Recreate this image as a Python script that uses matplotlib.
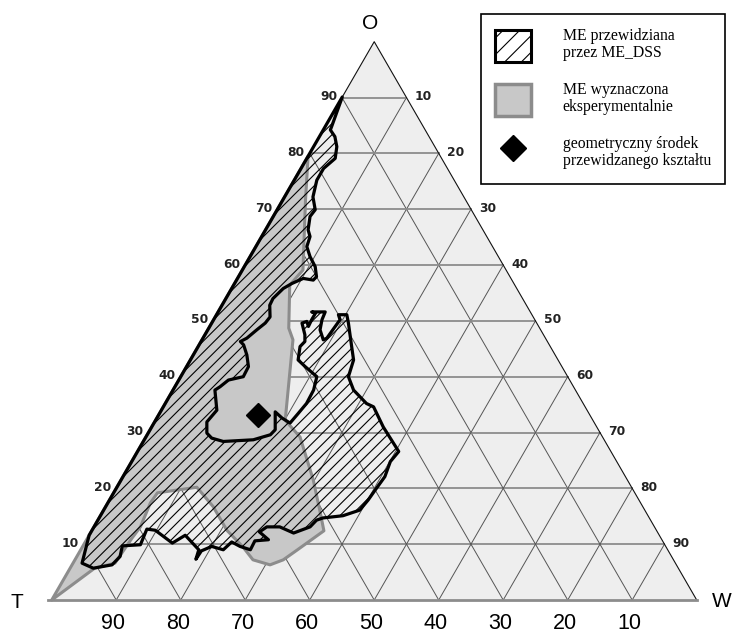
import numpy as np
import matplotlib.pyplot as plt
from matplotlib.patches import Polygon, Patch
from matplotlib.lines import Line2D

plt.rcParams['hatch.linewidth'] = 0.8

# compositions in percent: W (right corner), O (top corner), T = 100 - W - O
TICKS = [10, 20, 30, 40, 50, 60, 70, 80, 90]

# ME predicted by ME_DSS (outline traced counter-clockwise from the T-O edge)
PRED_W = [
    0.0, 0.0, 1.0, 1.1, 2.4, 3.6, 4.4, 3.5, 3.5, 4.4,
    5.9, 5.7, 6.6, 7.5, 7.9, 9.3, 11.0, 12.1, 11.9, 10.2,
    8.9, 8.0, 7.3, 7.4, 8.5, 8.3, 7.6, 6.8, 6.1, 6.9,
    8.3, 9.6, 9.7, 7.7, 7.0, 6.5, 8.6, 8.1, 9.1, 10.3,
    12.4, 16.9, 19.1, 19.4, 17.8, 19.4, 21.1, 21.5, 21.9, 21.8,
    21.1, 18.4, 16.7, 15.8, 16.1, 15.5, 14.0, 14.6, 15.3, 15.2,
    15.2, 14.5, 16.6, 16.8, 17.4, 18.8, 19.2, 19.6, 18.9, 20.2,
    21.2, 23.8, 25.3, 26.0, 28.0, 31.2, 32.6, 35.9, 40.5, 40.1,
    40.6, 40.3, 40.1, 39.7, 37.6, 34.7, 33.9, 33.5, 31.5, 28.8,
    26.8, 26.1, 28.2, 26.2, 26.3, 24.4, 22.7, 22.1, 20.0, 18.8,
    18.7, 18.3, 14.9, 13.6, 9.8, 8.4, 8.8, 6.1, 6.7, 6.2,
    3.6, 1.4]
PRED_O = [
    11.6, 90.1, 84.8, 84.2, 83.0, 81.2, 79.1, 77.3, 75.2, 72.2,
    69.9, 68.7, 66.3, 65.1, 63.3, 61.5, 59.7, 57.9, 57.3, 57.6,
    56.7, 55.8, 54.0, 52.8, 50.7, 49.6, 48.4, 46.9, 46.3, 45.7,
    43.9, 41.8, 40.0, 39.4, 38.2, 37.6, 34.0, 31.9, 29.9, 29.0,
    28.4, 28.7, 29.6, 30.5, 33.7, 32.6, 31.7, 33.4, 35.2, 37.6,
    40.0, 41.8, 43.0, 45.4, 46.3, 47.5, 49.6, 49.9, 49.0, 50.2,
    51.4, 51.6, 51.6, 50.2, 48.4, 46.6, 46.9, 50.2, 51.1, 51.1,
    49.6, 45.4, 43.0, 40.0, 37.6, 35.2, 34.6, 31.0, 26.6, 24.8,
    22.1, 19.7, 17.9, 16.1, 15.1, 14.7, 14.3, 13.1, 12.0, 13.1,
    13.1, 12.2, 10.8, 10.6, 9.0, 9.6, 10.4, 9.0, 9.6, 8.8,
    7.3, 9.0, 11.6, 10.2, 12.5, 12.7, 9.9, 9.7, 7.8, 6.3,
    5.7, 6.6]

# ME determined experimentally
EXP_W = [0.0, 0.0, 3.5, 9.4, 8.7, 12.4, 14.1, 20.1, 23.9, 29.8,
         33.5, 36.0, 33.6, 32.3, 30.7, 27.6, 24.9, 20.9, 16.7, 12.4,
         6.8, 6.6, 7.2, 6.9, 6.5, 3.8]
EXP_O = [0.0, 79.5, 71.7, 59.1, 56.4, 48.7, 46.6, 32.2, 29.2, 21.5,
         16.1, 12.4, 9.0, 7.2, 6.3, 7.2, 9.5, 12.5, 16.7, 20.2,
         19.2, 17.4, 13.1, 11.1, 6.6, 5.7]

# geometric centre of the predicted shape
CENTER_W = 15.5
CENTER_O = 33.1

H = np.sqrt(3) / 2


def tern(w, o):
    w = np.asarray(w, dtype=float) / 100
    o = np.asarray(o, dtype=float) / 100
    return w + o / 2, o * H


fig = plt.figure(figsize=(7.32, 6.34), dpi=100)
ax = fig.add_axes([0, 0, 1, 1])
ax.set_xlim(-0.0802, 1.0547)
ax.set_ylim(-0.0527, 0.9307)
ax.axis('off')

# triangle background
cx, cy = tern([0, 100, 0], [0, 0, 100])
ax.add_patch(Polygon(np.column_stack([cx, cy]), closed=True,
                     facecolor='#eeeeee', edgecolor='none', zorder=0))

# grid
for k in TICKS:
    x, y = tern([0, 100 - k], [k, k])
    ax.plot(x, y, color='#8c8c8c', lw=1.3, zorder=1)
    x, y = tern([k, k], [0, 100 - k])
    ax.plot(x, y, color='#555555', lw=0.7, zorder=1)
    x, y = tern([100 - k, 0], [0, 100 - k])
    ax.plot(x, y, color='#555555', lw=0.7, zorder=1)

# edges
x, y = tern([0, 0, 100], [0, 100, 0])
ax.plot(x, y, color='#111111', lw=0.8, zorder=1)
x, y = tern([-0.6, 100], [0, 0])
ax.plot(x, y, color='#8c8c8c', lw=2.0, zorder=1)

# experimental region
ex, ey = tern(EXP_W, EXP_O)
ax.add_patch(Polygon(np.column_stack([ex, ey]), closed=True,
                     facecolor='#c8c8c8', edgecolor='#8c8c8c', lw=2.2,
                     joinstyle='round', zorder=2))

# predicted region
px, py = tern(PRED_W, PRED_O)
ax.add_patch(Polygon(np.column_stack([px, py]), closed=True, fill=False,
                     hatch='///', edgecolor='black', lw=2.3,
                     joinstyle='round', zorder=3))

mx, my = tern(CENTER_W, CENTER_O)
ax.plot(mx, my, marker='D', ms=12.5, color='black', zorder=5)

# edge labels
for k in TICKS:
    x, y = tern(0, k)
    ax.annotate(str(k), (x, y), xytext=(-3.5, 0.7), textcoords='offset points',
                ha='right', va='center', fontsize=8.8, fontweight='bold',
                color='#222222')
    x, y = tern(100 - k, k)
    ax.annotate(str(100 - k), (x, y), xytext=(6, 0.7), textcoords='offset points',
                ha='left', va='center', fontsize=8.8, fontweight='bold',
                color='#222222')
    x, y = tern(100 - k, 0)
    ax.annotate(str(k), (x, y), xytext=(-2, -20.9), textcoords='offset points',
                ha='center', va='baseline', fontsize=15.5,
                family='Liberation Sans')

for name, w, o, off in [('T', 0, 0, (-25, -2)), ('W', 100, 0, (18, -1.2)),
                        ('O', 0, 100, (-3, 13.2))]:
    x, y = tern(w, o)
    ax.annotate(name, (x, y), xytext=off, textcoords='offset points',
                ha='center', va='center', fontsize=15, family='Liberation Sans')

handles = [
    Patch(facecolor='white', edgecolor='black', hatch='//', lw=2.2,
          label='ME przewidziana\nprzez ME_DSS'),
    Patch(facecolor='#c8c8c8', edgecolor='#8c8c8c', lw=2.5,
          label='ME wyznaczona\neksperymentalnie'),
    Line2D([], [], marker='D', ms=13, color='black', linestyle='none',
           label='geometryczny środek\nprzewidzanego kształtu'),
]
leg = fig.legend(handles=handles, loc='upper right',
                 bbox_to_anchor=(725 / 732, 1 - 14 / 634),
                 prop={'family': 'Liberation Serif', 'size': 11.3},
                 fancybox=False, framealpha=1, edgecolor='black',
                 handlelength=2.3, handleheight=2.76, handletextpad=2.0,
                 labelspacing=1.3, borderpad=0.9, borderaxespad=0)
leg.get_frame().set_linewidth(1.2)
for t in leg.get_texts():
    t.set_linespacing(1.05)

fig.savefig('out.png', dpi=100)
